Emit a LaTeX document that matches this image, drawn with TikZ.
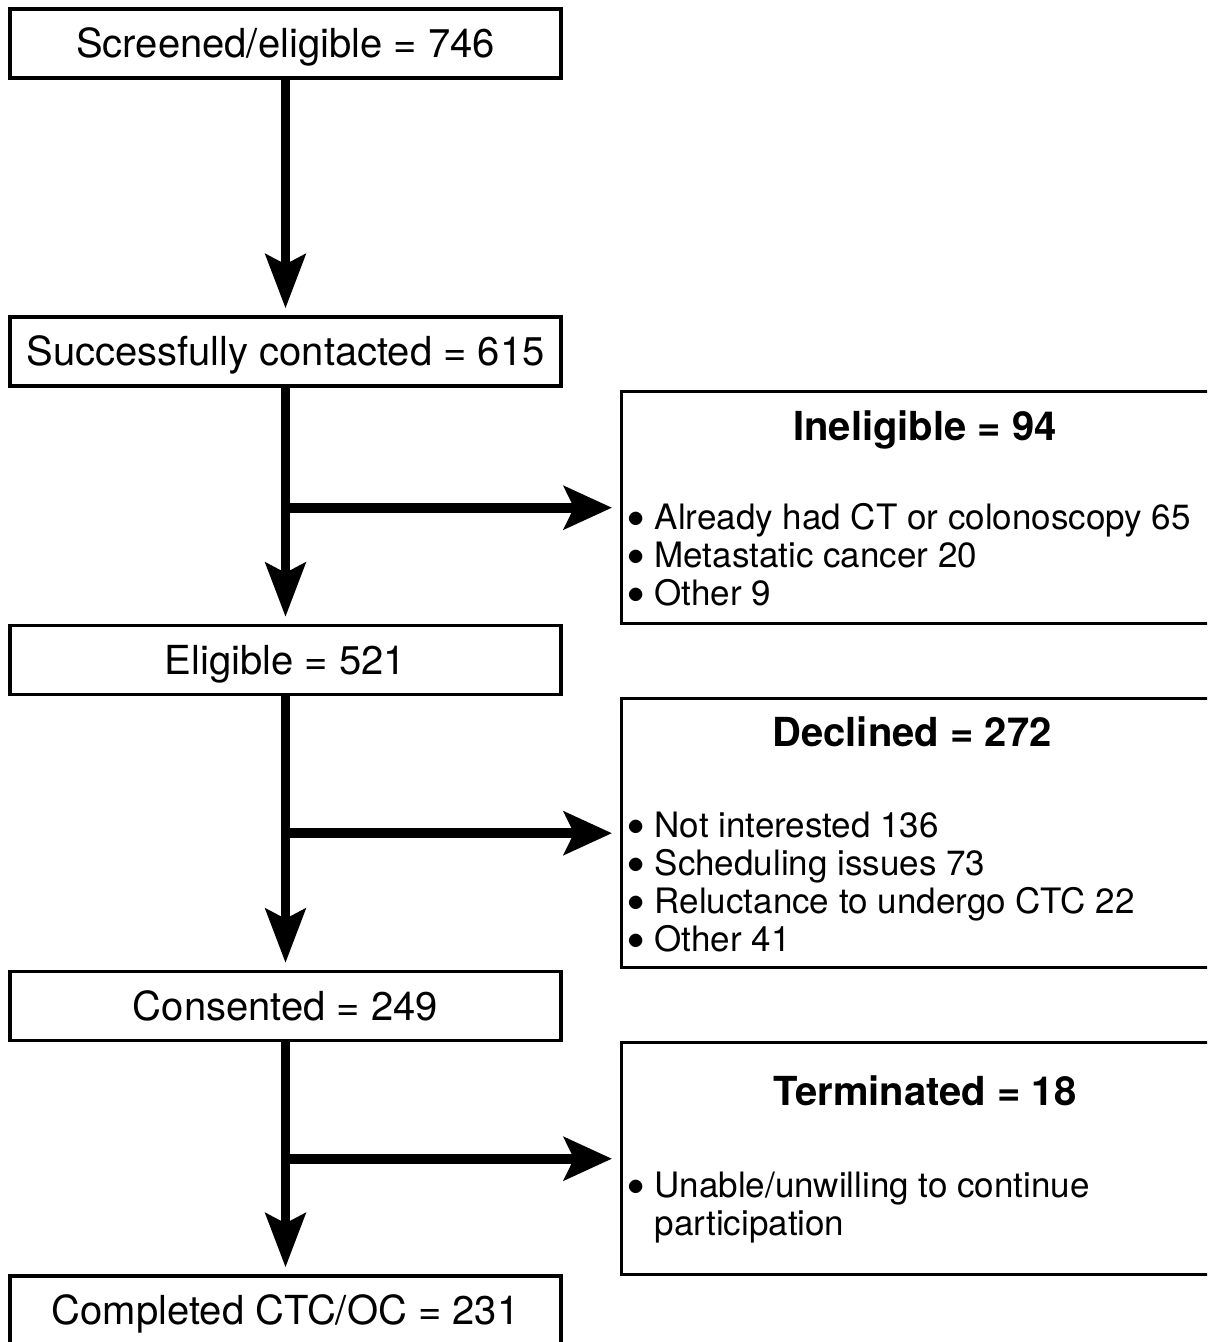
\documentclass[tikz,border=0pt]{standalone}
\usepackage{fontspec}
\setmainfont{TeX Gyre Heros}
\usetikzlibrary{arrows.meta}

\tikzset{
  stagebox/.style={draw, line width=1.7pt, minimum width=275.5pt, minimum height=34.5pt,
    inner sep=0pt, text height=14.4pt, text depth=0pt, font=\fontsize{20}{24}\selectfont},
  exclbox/.style={draw, line width=1.7pt, minimum width=305pt, inner sep=0pt, anchor=north west},
  extitle/.style={anchor=base, inner sep=0pt, font=\fontsize{20}{24}\selectfont\bfseries},
  exlist/.style={anchor=base west, inner sep=0pt, font=\fontsize{17.5}{19}\selectfont},
  flow/.style={line width=4.5pt, -{Stealth[length=27pt,width=20pt,inset=5pt]}, shorten >=3.5pt},
  branch/.style={line width=5pt, -{Stealth[length=24pt,width=21.5pt,inset=5pt]}, shorten >=4pt},
}
\newcommand{\reasons}[1]{\begin{tabular}[t]{@{}l@{\hspace{5pt}}l@{}}#1\end{tabular}}
\newcommand{\dotmark}{\raisebox{1pt}{$\bullet$}}

\begin{document}
\begin{tikzpicture}[x=0.5pt,y=-0.5pt]
  \useasboundingbox (0,0) rectangle (1207,1342);
  \clip (0,0) rectangle (1207,1342);

  % Main stages
  \node[stagebox] (screened)  at (285.5,43.5)  {Screened/eligible = 746};
  \node[stagebox] (contacted) at (285.5,351.5) {Successfully contacted = 615};
  \node[stagebox] (eligible)  at (285.5,660)   {Eligible = 521};
  \node[stagebox] (consented) at (285.5,1006)  {Consented = 249};
  \node[stagebox] (completed) at (285.5,1310.5) {Completed CTC/OC = 231};

  % Exclusion boxes
  \node[exclbox, minimum height=116pt]   (inelig)  at (620,390)  {};
  \node[exclbox, minimum height=134.5pt] (declined) at (620,697) {};
  \node[exclbox, minimum height=116pt]   (termin)  at (620,1041) {};

  % Ineligible
  \node[extitle] (ineligtitle) at (925,440) {Ineligible = 94};
  \node[exlist] (ineliglist) at (627,529) {\reasons{%
    \dotmark & Already had CT or colonoscopy 65\\
    \dotmark & Metastatic cancer 20\\
    \dotmark & Other 9}};

  % Declined
  \node[extitle] (declinedtitle) at (912,746) {Declined = 272};
  \node[exlist] (declinedlist) at (627,837) {\reasons{%
    \dotmark & Not interested 136\\
    \dotmark & Scheduling issues 73\\
    \dotmark & Reluctance to undergo CTC 22\\
    \dotmark & Other 41}};

  % Terminated
  \node[extitle] (termintitle) at (925,1105) {Terminated = 18};
  \node[exlist] (terminlist) at (627,1197) {\reasons{%
    \dotmark & Unable/unwilling to continue\\
             & participation}};

  % Flow
  \draw[flow] (screened) -- (contacted);
  \draw[flow] (contacted) -- (eligible);
  \draw[flow] (eligible) -- (consented);
  \draw[flow] (consented) -- (completed);

  % Branches
  \draw[branch] (contacted.south |- inelig.west) -- (inelig.west);
  \draw[branch] (eligible.south |- declined.west) -- (declined.west);
  \draw[branch] (consented.south |- termin.west) -- (termin.west);
\end{tikzpicture}
\end{document}
